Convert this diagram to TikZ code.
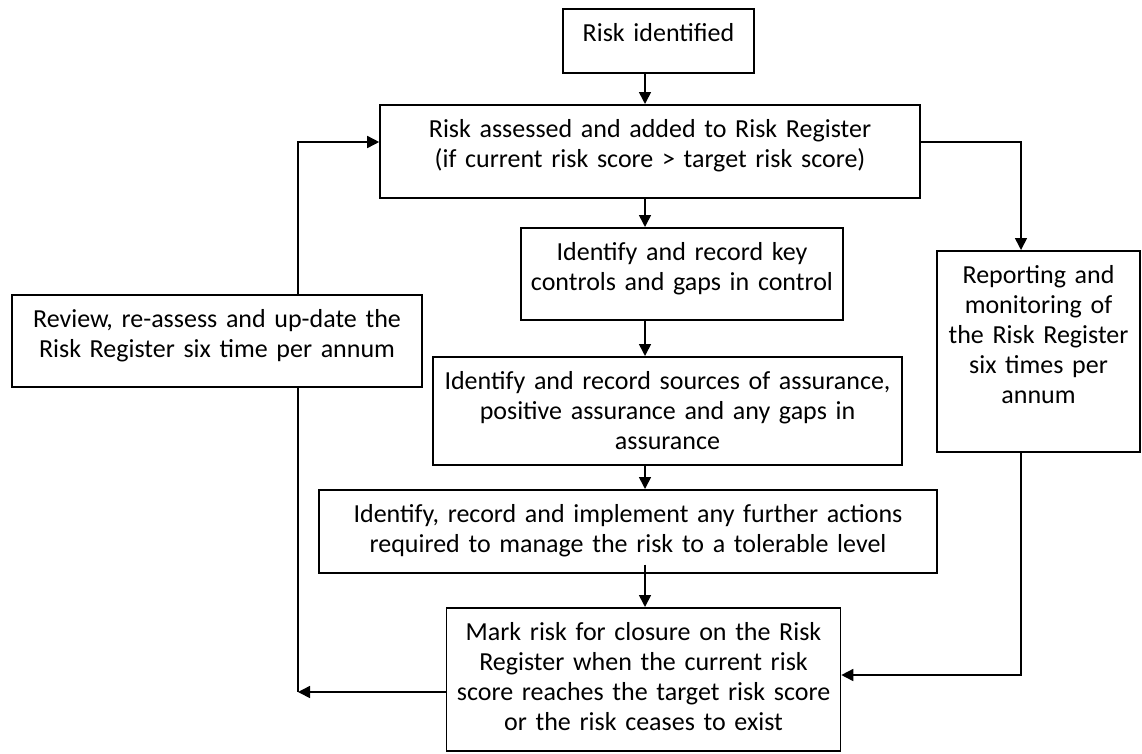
\documentclass[tikz,border=0pt]{standalone}
\usepackage{fontspec}
\setmainfont{Carlito}
\usetikzlibrary{arrows.meta,calc}

\begin{document}
\begin{tikzpicture}[x=1pt, y=-1pt, every node/.style={font=\fontsize{26}{30}\selectfont, align=center}, block/.style 2 args={draw, line width=1.6pt, anchor=north, inner xsep=4pt, inner ysep=0pt, text height=33pt, text width=#1, text depth=#2}, flow/.style={-{Triangle[length=12pt, width=12pt]}, line width=1.6pt}]
        \useasboundingbox (0,0) rectangle (1142,753);
        \node[block={183pt}{31pt}] (ident) at (658.5,8) {Risk identified};
        \node[block={532pt}{60pt}] (assess) at (650,104) {Risk assessed and added to Risk Register\\(if current risk score > target risk score)};
        \node[block={314pt}{59pt}] (controls) at (682,227) {Identify and record key\\controls and gaps in control};
        \node[block={402pt}{59pt}] (review) at (217,294) {Review, re-assess and up-date the\\Risk Register six time per annum};
        \node[block={195pt}{168pt}] (report) at (1038.5,250) {Reporting and\\monitoring of\\the Risk Register\\six times per\\annum};
        \node[block={461pt}{75pt}] (assure) at (667.5,356) {Identify and record sources of assurance,\\positive assurance and any gaps in\\assurance};
        \node[block={610pt}{50pt}] (actions) at (628,489) {Identify, record and implement any further actions\\required to manage the risk to a tolerable level};
        \node[block={386pt}{110pt}] (mark) at (643.5,607) {Mark risk for closure on the Risk\\Register when the current risk\\score reaches the target risk score\\or the risk ceases to exist};

        \coordinate (spine) at (645,0);
        \coordinate (lloop) at (298,142);
        \coordinate (rloop) at (1021,142);
        \coordinate (rback) at (1021,675);
        \coordinate (lback) at (298,692);

        \draw[flow] (ident.south -| spine) -- (assess.north -| spine);
        \draw[flow] (assess.south -| spine) -- (controls.north -| spine);
        \draw[flow] (controls.south -| spine) -- (assure.north -| spine);
        \draw[flow] (assure.south -| spine) -- (actions.north -| spine);
        \draw[flow] ([yshift=9pt]actions.south -| spine) -- (mark.north -| spine);
        \draw[flow] (assess.east |- rloop) -- (rloop) -- (report.north -| rloop);
        \draw[flow] (review.north -| lloop) -- (lloop) -- (assess.west |- lloop);
        \draw[flow] (report.south -| rback) -- (rback) -- (mark.east |- rback);
        \draw[line width=1.6pt] (review.south -| lback) -- (lback);
        \draw[flow] (mark.west |- lback) -- (lback);
    \end{tikzpicture}
\end{document}
